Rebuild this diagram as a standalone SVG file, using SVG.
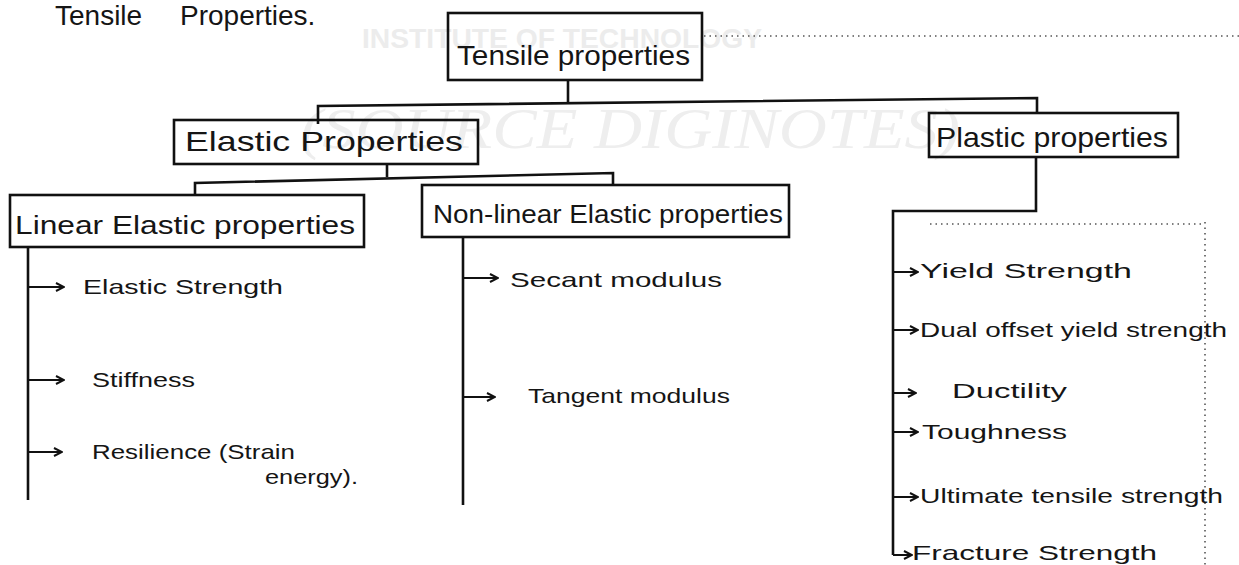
<svg xmlns="http://www.w3.org/2000/svg" width="1239" height="565" viewBox="0 0 1239 565">
<style>
.bg{fill:#ffffff}
.box{fill:none;stroke:#111;stroke-width:2.6}
.ln{fill:none;stroke:#111;stroke-width:2.6;stroke-linejoin:miter}
.arr{fill:none;stroke:#111;stroke-width:2;marker-end:url(#ah)}
.dot{fill:none;stroke:#555;stroke-width:1.6;stroke-dasharray:1.5 4}
.t{font-family:"Liberation Sans","DejaVu Sans",sans-serif;fill:#151515}
.h1{font-size:28px}
.h2{font-size:25px}
.it{font-size:21px}
.wm1{font-family:"Liberation Sans",sans-serif;font-weight:bold;font-size:28px;fill:#ececec}
.wm2{font-family:"Liberation Serif",serif;font-style:italic;font-size:56px;fill:#eeeeee}
</style>
<defs>
<marker id="ah" viewBox="0 0 10 10" refX="9" refY="5" markerWidth="5" markerHeight="5" orient="auto" markerUnits="strokeWidth">
<path d="M1,1 L9,5 L1,9" fill="none" stroke="#111" stroke-width="2"/>
</marker>
</defs>
<rect class="bg" x="0" y="0" width="1239" height="565"/>
<g id="watermark">
<text class="wm1" x="362" y="48" textLength="400" lengthAdjust="spacingAndGlyphs">INSTITUTE OF TECHNOLOGY</text>
<text class="wm2" x="300" y="148" textLength="660" lengthAdjust="spacingAndGlyphs">(SOURCE DIGINOTES)</text>
</g>
<g id="title">
<text class="t h1" y="25"><tspan x="55">Tensile</tspan><tspan x="180">Properties.</tspan></text>
</g>
<g id="scan-dots">
<path class="dot" d="M704,36 H1239"/>
<path class="dot" d="M1205,222 V565"/>
<path class="dot" d="M930,224 H1205"/>
</g>
<g id="connectors">
<path class="ln" d="M568,80 V102"/>
<path class="ln" d="M318,124 V106 L1037,98 V113"/>
<path class="ln" d="M387,164 V177"/>
<path class="ln" d="M195,195 V183 L613,173 V186"/>
<path class="ln" d="M1036,157 V211 H893 V555"/>
<path class="ln" d="M28,247 V500"/>
<path class="ln" d="M463,237 V505"/>
<path class="arr" d="M28,287 H64"/>
<path class="arr" d="M28,380 H64"/>
<path class="arr" d="M28,452 H62"/>
<path class="arr" d="M463,278 H498"/>
<path class="arr" d="M463,397 H495"/>
<path class="arr" d="M893,272 H918"/>
<path class="arr" d="M893,330 H918"/>
<path class="arr" d="M893,393 H916"/>
<path class="arr" d="M893,432 H918"/>
<path class="arr" d="M893,497 H918"/>
<path class="arr" d="M893,555 H912"/>
</g>
<g id="node-tensile">
<rect class="box" x="448" y="13" width="254" height="67"/>
<text class="t h1" x="457" y="65" textLength="233" lengthAdjust="spacingAndGlyphs">Tensile  properties</text>
</g>
<g id="node-elastic">
<rect class="box" x="174" y="120" width="304" height="44"/>
<text class="t h1" x="185" y="151" textLength="278" lengthAdjust="spacingAndGlyphs">Elastic  Properties</text>
</g>
<g id="node-plastic">
<rect class="box" x="929" y="113" width="249" height="44"/>
<text class="t h1" x="936" y="147" textLength="232" lengthAdjust="spacingAndGlyphs">Plastic  properties</text>
</g>
<g id="node-linear">
<rect class="box" x="10" y="195" width="354" height="52"/>
<text class="t h2" x="15" y="234" textLength="340" lengthAdjust="spacingAndGlyphs">Linear  Elastic  properties</text>
</g>
<g id="node-nonlinear">
<rect class="box" x="422" y="185" width="367" height="52"/>
<text class="t h2" x="433" y="223" textLength="350" lengthAdjust="spacingAndGlyphs">Non-linear Elastic properties</text>
</g>
<g id="linear-items">
<text class="t it" x="83" y="294" textLength="200" lengthAdjust="spacingAndGlyphs">Elastic  Strength</text>
<text class="t it" x="92" y="387" textLength="103" lengthAdjust="spacingAndGlyphs">Stiffness</text>
<text class="t it" x="92" y="459" textLength="203" lengthAdjust="spacingAndGlyphs">Resilience (Strain</text>
<text class="t it" x="265" y="484" textLength="93" lengthAdjust="spacingAndGlyphs">energy).</text>
</g>
<g id="nonlinear-items">
<text class="t it" x="510" y="287" textLength="212" lengthAdjust="spacingAndGlyphs">Secant  modulus</text>
<text class="t it" x="528" y="403" textLength="202" lengthAdjust="spacingAndGlyphs">Tangent  modulus</text>
</g>
<g id="plastic-items">
<text class="t it" x="920" y="278" textLength="212" lengthAdjust="spacingAndGlyphs">Yield  Strength</text>
<text class="t it" x="920" y="337" textLength="307" lengthAdjust="spacingAndGlyphs">Dual offset yield strength</text>
<text class="t it" x="952" y="398" textLength="115" lengthAdjust="spacingAndGlyphs">Ductility</text>
<text class="t it" x="922" y="439" textLength="145" lengthAdjust="spacingAndGlyphs">Toughness</text>
<text class="t it" x="920" y="503" textLength="303" lengthAdjust="spacingAndGlyphs">Ultimate  tensile  strength</text>
<text class="t it" x="912" y="560" textLength="245" lengthAdjust="spacingAndGlyphs">Fracture  Strength</text>
</g>
</svg>
